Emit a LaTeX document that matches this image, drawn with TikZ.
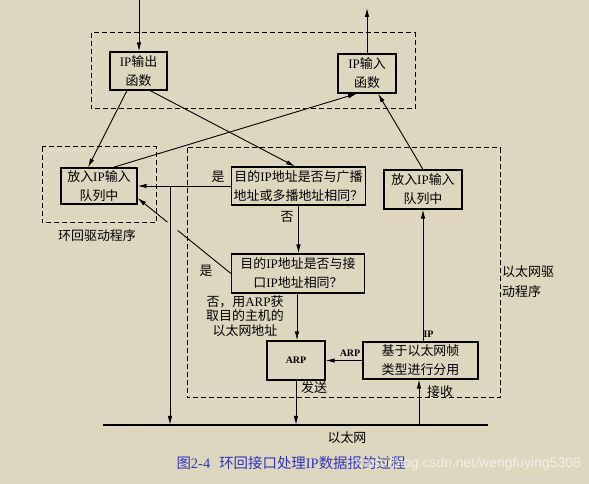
\documentclass[tikz,border=0pt]{standalone}
\usepackage{fontspec}
\setmainfont{Liberation Serif}
\newfontfamily\cjk{Noto Sans CJK SC}
\newfontfamily\wmfont{Liberation Sans}
\usetikzlibrary{arrows.meta, positioning, calc}
\definecolor{paper}{RGB}{222,215,192}
\definecolor{capblue}{RGB}{50,50,185}
\newcommand{\lat}[1]{{\rmfamily #1}}

\begin{document}
\begin{tikzpicture}[
    x=1bp, y=1bp,
    box/.style={
        rectangle,
        draw,
        line width=1.1bp,
        inner sep=0pt,
        align=center,
        font=\cjk\fontsize{13}{19}\selectfont
    },
    group/.style={draw, line width=1bp, dash pattern=on 5bp off 3bp},
    arrow/.style={line width=0.9bp, -{Latex[length=9bp,width=4.5bp]}},
    wire/.style={line width=0.9bp},
    note/.style={inner sep=0pt, font=\cjk\fontsize{13}{19}\selectfont},
    tag/.style={inner sep=0pt, font=\bfseries\fontsize{10}{12}\selectfont}
]

% ========== 背景 ==========
\fill[paper] (0,0) rectangle (589,484);
\useasboundingbox (0,0) rectangle (589,484);

% ========== IP层 ==========
\node[box, minimum width=57bp, minimum height=38bp] (outfn) at (138.5,413) {\lat{IP}输出\\函数};
\node[box, minimum width=58bp, minimum height=39bp] (infn) at (367,410.5) {\lat{IP}输入\\函数};
\draw[group] (91,451) rectangle (415,375);

% ========== 环回驱动程序 ==========
\node[box, minimum width=76bp, minimum height=36bp] (loopq) at (99,298) {放入\lat{IP}输入\\队列中};
\draw[group] (42,337) rectangle (156,261);
\node[note] (looplbl) at (97,248) {环回驱动程序};

% ========== 以太网驱动程序 ==========
\node[box, minimum width=134bp, minimum height=38bp] (bcast) at (298.5,298) {目的\lat{IP}地址是否与广播\\地址或多播地址相同？};
\node[box, minimum width=78bp, minimum height=39bp] (ethq) at (423,294.5) {放入\lat{IP}输入\\队列中};
\node[box, minimum width=133bp, minimum height=39bp] (ifdec) at (298,210.5) {目的\lat{IP}地址是否与接\\口\lat{IP}地址相同？};
\node[box, minimum width=58bp, minimum height=39bp, font=\bfseries\fontsize{10}{12}\selectfont] (arp) at (296,123.5) {ARP};
\node[box, minimum width=115bp, minimum height=37bp] (demux) at (420.5,123.5) {基于以太网帧\\类型进行分用};
\draw[group] (187,336) rectangle (500,86);
\node[note, anchor=west, align=left, font=\cjk\fontsize{13}{20}\selectfont] (ethlbl) at (502,202) {以太网驱\\动程序};

% ========== 以太网 ==========
\coordinate (ethL) at (103,59);
\coordinate (ethR) at (488,59);
\draw[line width=2bp] (ethL) -- (ethR);
\node[note] (ethname) at (347,46) {以太网};

% ========== 连接线 ==========
\coordinate (inTop) at (139,484);
\coordinate (outTop) at (367,476);
\draw[arrow] (inTop) -- (inTop |- outfn.north);
\draw[arrow] (infn.north) -- (outTop);

\draw[arrow] ([xshift=-11.5bp]outfn.south) -- ([xshift=-11bp]loopq.north);
\draw[arrow] ([xshift=11.5bp]outfn.south) -- ([xshift=-3.5bp]bcast.north);
\draw[arrow] ([xshift=14bp]loopq.north) -- ([xshift=-10bp]infn.south);
\draw[arrow] (ethq.north) -- ([xshift=11bp]infn.south);

% 广播/多播: 环回并发送
\coordinate (split) at (170,298);
\draw[arrow] (bcast.west) -- (loopq.east);
\draw[arrow] (split) -- (split |- ethL);
\node[note] at (218,307) {是};

% 与接口地址相同: 环回
\coordinate (qin) at ([yshift=-12bp]loopq.east);
\draw[wire] (ifdec.west) -- ($(ifdec.west)!0.57!(qin)$);
\draw[arrow] ($(ifdec.west)!0.68!(qin)$) -- (qin);
\node[note] at (206,213) {是};

\draw[arrow] (bcast.south) -- (bcast.south |- ifdec.north);
\node[note] at (287,267) {否};

\draw[arrow] ([xshift=-1bp]ifdec.south) -- ([xshift=-1bp]ifdec.south |- arp.north);
\node[note, align=center, font=\cjk\fontsize{13}{14.5}\selectfont] at (245,168) {否，用\lat{ARP}获\\取目的主机的\\以太网地址};

\draw[arrow] (arp.south) -- (arp.south |- ethL);
\node[note] at (314,96) {发送};

\draw[arrow] (demux.west) -- (arp.east);
\node[tag] at (350,131) {ARP};

\draw[arrow] ([xshift=-1.5bp]demux.south |- ethL) -- ([xshift=-1.5bp]demux.south);
\node[note] at (440,92) {接收};

\draw[arrow] (ethq.south |- demux.north) -- (ethq.south);
\node[tag] at (428.5,150) {IP};

% ========== 图题 ==========
\node[inner sep=0pt, text=capblue, font=\cjk\fontsize{14.5}{16}\selectfont] (caption) at (291,21) {图\lat{2-4}\hspace{9bp}环回接口处理\lat{IP}数据报的过程};
\node[anchor=east, inner sep=0pt, text=white, opacity=0.6, font=\wmfont\fontsize{14}{16}\selectfont] (mark) at (581,20) {https://blog.csdn.net/wengfuying5308};

\end{tikzpicture}
\end{document}
